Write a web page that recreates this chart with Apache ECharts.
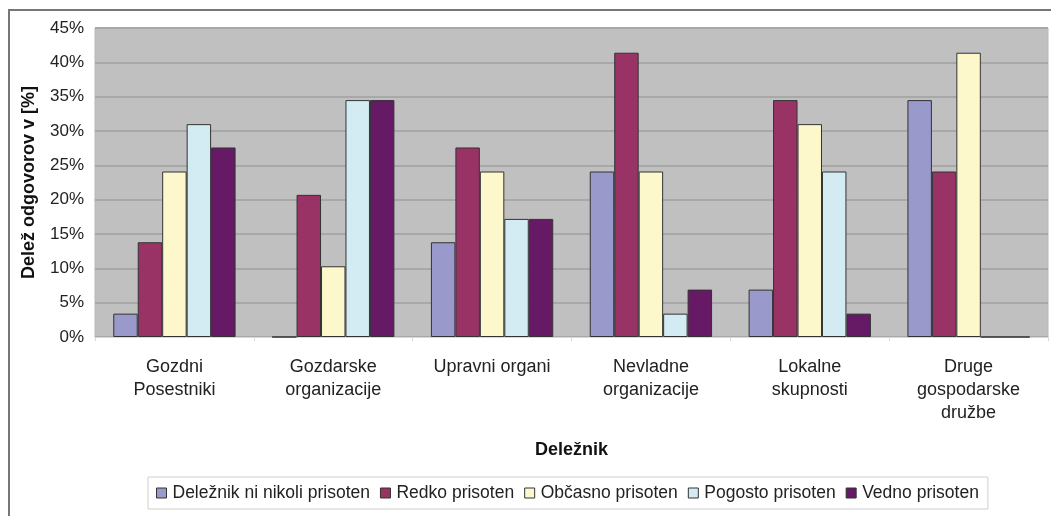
<!DOCTYPE html>
<html>
<head>
<meta charset="utf-8">
<script src="https://cdn.jsdelivr.net/npm/echarts@6/dist/echarts.min.js"></script>
<style>
  html, body { margin: 0; padding: 0; background: #fff; }
  #chart { width: 1051px; height: 516px; }
</style>
</head>
<body>
<div id="chart"></div>
<script>
// categories (stakeholders)
const categories = [
  'Gozdni\nPosestniki',
  'Gozdarske\norganizacije',
  'Upravni organi',
  'Nevladne\norganizacije',
  'Lokalne\nskupnosti',
  'Druge\ngospodarske\ndružbe'
];

// share of answers in %, one array per answer type
const nikoli  = [3.4, 0, 13.8, 24.1, 6.9, 34.5];
const redko   = [13.8, 20.7, 27.6, 41.4, 34.5, 24.1];
const obcasno = [24.1, 10.3, 24.1, 24.1, 31.0, 41.4];
const pogosto = [31.0, 34.5, 17.2, 3.4, 24.1, 0];
const vedno   = [27.6, 34.5, 17.2, 6.9, 3.4, 0];

const seriesNames = [
  'Deležnik ni nikoli prisoten',
  'Redko prisoten',
  'Občasno prisoten',
  'Pogosto prisoten',
  'Vedno prisoten'
];
const seriesData = [nikoli, redko, obcasno, pogosto, vedno];
const colors = ['#9999cc', '#993366', '#fdf8cc', '#d3ecf4', '#661a66'];

const font = '"Liberation Sans", Arial, sans-serif';

const chart = echarts.init(document.getElementById('chart'));

const option = {
  animation: false,
  color: colors,
  textStyle: { fontFamily: font },
  graphic: [
    {
      type: 'rect',
      shape: { x: 9, y: 10, width: 1100, height: 600 },
      style: { fill: 'none', stroke: '#777', lineWidth: 2 },
      silent: true,
      z: -1
    }
  ],
  grid: {
    left: 95,
    right: 3,
    top: 28,
    bottom: 179,
    show: true,
    backgroundColor: '#c0c0c0',
    borderColor: '#b8b8b8',
    borderWidth: 1
  },
  legend: {
    top: 477,
    left: 148,
    data: seriesNames,
    itemWidth: 10,
    itemHeight: 10,
    itemGap: 10,
    padding: [7, 9, 7, 8],
    borderColor: '#cfcfcf',
    borderWidth: 1,
    icon: 'rect',
    itemStyle: { borderColor: '#333', borderWidth: 1 },
    textStyle: { fontSize: 17.5, color: '#222', fontFamily: font, padding: [0, 0, 0, 1] }
  },
  xAxis: {
    type: 'category',
    data: categories,
    name: 'Deležnik',
    nameLocation: 'middle',
    nameGap: 104,
    nameTextStyle: { fontSize: 18, fontWeight: 'bold', color: '#111' },
    axisLine: { show: true, lineStyle: { color: '#d8d8d8', width: 1 } },
    axisTick: { show: true, length: 4, lineStyle: { color: '#d8d8d8' } },
    axisLabel: {
      interval: 0,
      fontSize: 18,
      color: '#222',
      lineHeight: 23,
      margin: 19
    }
  },
  yAxis: {
    type: 'value',
    min: 0,
    max: 45,
    interval: 5,
    name: 'Delež odgovorov v [%]',
    nameLocation: 'middle',
    nameGap: 57,
    nameTextStyle: { fontSize: 18, fontWeight: 'bold', color: '#111' },
    axisLine: { show: false },
    axisTick: { show: false },
    axisLabel: {
      formatter: '{value}%',
      fontSize: 17,
      color: '#222',
      margin: 11
    },
    splitLine: { show: true, lineStyle: { color: '#a8a8a8', width: 2 } }
  },
  series: seriesNames.map((name, i) => ({
    name: name,
    type: 'bar',
    data: seriesData[i],
    barGap: '0%',
    barCategoryGap: '23%',
    itemStyle: { color: colors[i], borderColor: '#333', borderWidth: 1 }
  }))
};

chart.setOption(option);
</script>
</body>
</html>
